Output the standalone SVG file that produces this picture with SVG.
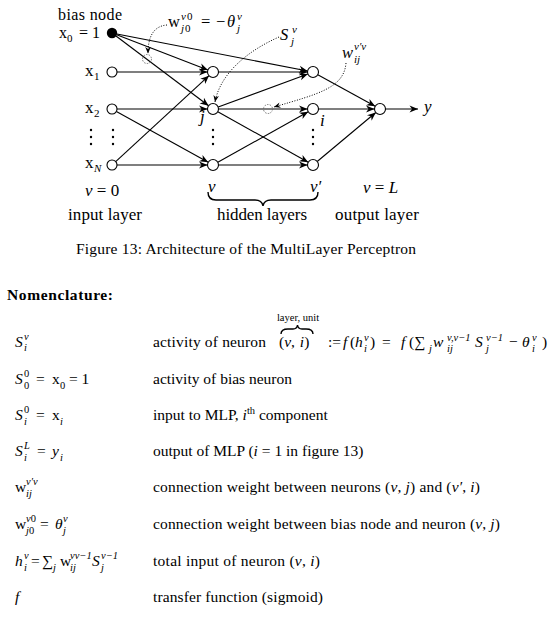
<svg xmlns="http://www.w3.org/2000/svg" width="552" height="619" viewBox="0 0 552 619">
<style>
text{font-family:"Liberation Serif","Times New Roman",serif;fill:#000}
.f{font-size:17px}
.fm{font-size:16.5px}
.t{font-size:15.5px}
.i{font-style:italic}
.s{font-size:11px}
.ss{font-size:10.5px}
.edge{stroke:#000;stroke-width:1.1;fill:none;marker-end:url(#ah)}
.dot{stroke:#000;stroke-width:1;fill:none;stroke-dasharray:1 1.6;marker-end:url(#ahs)}
.nd{fill:#fff;stroke:#000;stroke-width:1.1}
.dc{fill:none;stroke:#666;stroke-width:0.9;stroke-dasharray:1.5 1.3}
.br{fill:none;stroke:#000;stroke-width:1.4}
</style>
<defs>
<marker id="ah" markerUnits="userSpaceOnUse" markerWidth="12" markerHeight="10" viewBox="-9 -5 10 10" refX="0" refY="0" orient="auto">
<path d="M0,0 L-8.5,-3.6 L-6,0 L-8.5,3.6 z" fill="#000"/>
</marker>
<marker id="ahs" markerUnits="userSpaceOnUse" markerWidth="10" markerHeight="8" viewBox="-7 -4 8 8" refX="0" refY="0" orient="auto">
<path d="M0,0 L-6.5,-2.8 L-4.5,0 L-6.5,2.8 z" fill="#000"/>
</marker>
</defs>

<g id="connectors">
<line class="edge" x1="116.7" y1="34.8" x2="207.9" y2="70.0"/>
<line class="edge" x1="116" y1="36" x2="208.6" y2="105.7"/>
<line class="edge" x1="116.9" y1="34" x2="307.6" y2="71"/>
<line class="edge" x1="117" y1="72" x2="207.5" y2="72"/>
<line class="edge" x1="117" y1="109" x2="207.5" y2="109"/>
<line class="edge" x1="116.4" y1="111.4" x2="208.2" y2="162.3"/>
<line class="edge" x1="117" y1="165" x2="207.5" y2="165"/>
<line class="edge" x1="115.7" y1="161.6" x2="209" y2="75.7"/>
<line class="edge" x1="218.5" y1="72" x2="307.5" y2="72"/>
<line class="edge" x1="218.2" y1="107.1" x2="307.8" y2="73.9"/>
<line class="edge" x1="218.5" y1="109" x2="307.5" y2="109"/>
<line class="edge" x1="217.8" y1="111.7" x2="308.2" y2="162.3"/>
<line class="edge" x1="217.8" y1="162.3" x2="308.2" y2="111.7"/>
<line class="edge" x1="218.5" y1="165" x2="307.5" y2="165"/>
<line class="edge" x1="317.8" y1="74.7" x2="375.2" y2="106.3"/>
<line class="edge" x1="318.5" y1="109" x2="374.5" y2="109"/>
<line class="edge" x1="317.2" y1="161.5" x2="375.8" y2="112.5"/>
<line class="edge" x1="385.5" y1="109" x2="418" y2="109"/>
<path class="dot" d="M167,25 C154,26 148,36 148,53.5"/>
<path class="dot" d="M279,37 C245,52 220,75 215,102"/>
<path class="dot" d="M346,63 C344,88 318,94 274,107"/>
</g>

<g id="weight-marks">
<circle class="dc" cx="147" cy="59" r="4.5"/>
<circle class="dc" cx="268" cy="109" r="4.5"/>
</g>

<g id="bias"><circle cx="112" cy="33" r="5.2" fill="#000"/></g>
<g id="x1"><circle class="nd" cx="112" cy="72" r="5"/></g>
<g id="x2"><circle class="nd" cx="112" cy="109" r="5"/></g>
<g id="xN"><circle class="nd" cx="112" cy="165" r="5"/></g>
<g id="h1a"><circle class="nd" cx="213" cy="72" r="5.5"/></g>
<g id="h1b"><circle class="nd" cx="213" cy="109" r="5.5"/></g>
<g id="h1c"><circle class="nd" cx="213" cy="165" r="5.5"/></g>
<g id="h2a"><circle class="nd" cx="313" cy="72" r="5.5"/></g>
<g id="h2b"><circle class="nd" cx="313" cy="109" r="5.5"/></g>
<g id="h2c"><circle class="nd" cx="313" cy="165" r="5.5"/></g>
<g id="out"><circle class="nd" cx="380" cy="109" r="5.5"/></g>

<g id="vdots" fill="#000">
<circle cx="91" cy="130" r="1.2"/><circle cx="91" cy="137" r="1.2"/><circle cx="91" cy="144" r="1.2"/>
<circle cx="113" cy="130" r="1.2"/><circle cx="113" cy="137" r="1.2"/><circle cx="113" cy="144" r="1.2"/>
<circle cx="213" cy="130" r="1.2"/><circle cx="213" cy="137" r="1.2"/><circle cx="213" cy="144" r="1.2"/>
<circle cx="313" cy="130" r="1.2"/><circle cx="313" cy="137" r="1.2"/><circle cx="313" cy="144" r="1.2"/>
</g>

<g id="fig-labels">
<text x="58" y="20" font-size="16" textLength="64">bias node</text>
<text x="59" y="38" font-size="16">x</text><text class="s" x="67" y="42">0</text>
<text x="79" y="38" font-size="16">= 1</text>
<text class="f" x="85" y="76">x</text><text class="s" x="94" y="80">1</text>
<text class="f" x="85" y="113">x</text><text class="s" x="94" y="117">2</text>
<text class="f" x="85" y="168">x</text><text class="s i" x="94" y="172">N</text>

<text class="fm" x="168" y="27">w</text>
<text class="s i" x="181" y="20">v</text><text class="s" x="187" y="20">0</text>
<text class="s i" x="181" y="32">j</text><text class="s" x="185" y="32">0</text>
<text class="fm" x="201" y="27">=</text><text class="fm" x="216" y="27">−</text><text class="fm i" x="227" y="27">θ</text>
<text class="s i" x="237" y="20">v</text><text class="s i" x="237" y="32">j</text>

<text class="fm i" x="280" y="40">S</text>
<text class="s i" x="292" y="33">v</text><text class="s i" x="291" y="45">j</text>

<text class="fm i" x="342" y="58">w</text>
<text class="s i" x="354" y="50">v′v</text><text class="s i" x="354" y="63">ij</text>

<text class="f i" x="200" y="122">j</text>
<text class="f i" x="320" y="126">i</text>
<text class="f i" x="424" y="112">y</text>

<text class="f" x="85" y="196"><tspan class="i">v</tspan> = 0</text>
<text class="f i" x="208" y="192">v</text>
<text class="f i" x="310" y="192">v′</text>
<text class="f" x="363" y="193"><tspan class="i">v</tspan> = <tspan class="i">L</tspan></text>
<path class="br" d="M208,192 Q208,200 216,200 L255,200 Q262,200 263,206 Q264,200 271,200 L310,200 Q318,200 318,192"/>
<text class="f" x="68" y="220" textLength="74">input layer</text>
<text class="f" x="217" y="220" textLength="90">hidden layers</text>
<text class="f" x="335" y="220" textLength="84">output layer</text>
</g>

<text class="t" x="76" y="254" textLength="340">Figure 13: Architecture of the MultiLayer Perceptron</text>

<text class="t" x="7" y="300" font-weight="bold" textLength="106">Nomenclature:</text>

<g id="nomenclature">
<!-- row 1 -->
<text class="t i" x="15" y="347">S</text><text class="ss i" x="24" y="340">v</text><text class="ss i" x="24" y="351">i</text>
<text class="t" x="153" y="347" textLength="113">activity of neuron</text>
<text class="ss" x="298" y="321" text-anchor="middle">layer, unit</text>
<path class="br" d="M281,334 Q281,329 288,329 L293,329 Q297,329 297.5,325 Q298,329 302,329 L306,329 Q313,329 313,334" stroke-width="1.2"/>
<text class="t" x="279" y="347">(<tspan class="i">v</tspan>, <tspan class="i" dx="1">i</tspan>)</text>
<text class="t" x="328" y="347">:=</text>
<text class="t i" x="343" y="347">f</text><text class="t" x="350" y="347">(</text>
<text class="t i" x="355" y="347">h</text><text class="ss i" x="364" y="341">v</text><text class="ss i" x="364" y="352">i</text>
<text class="t" x="370" y="347">)</text>
<text class="t" x="382" y="347">=</text>
<text class="t i" x="401" y="347">f</text><text class="t" x="409" y="347">(∑</text>
<text class="ss i" x="429" y="352">j</text>
<text class="t i" x="433" y="347">w</text><text class="ss i" x="447" y="341">v,v−1</text><text class="ss i" x="447" y="352">ij</text>
<text class="t i" x="475" y="347">S</text><text class="ss i" x="486" y="341">v−1</text><text class="ss i" x="486" y="352">j</text>
<text class="t" x="509" y="347">−</text>
<text class="t i" x="522" y="347">θ</text><text class="ss i" x="532" y="341">v</text><text class="ss i" x="532" y="352">i</text>
<text class="t" x="542" y="347">)</text>

<!-- row 2 -->
<text class="t i" x="15" y="384">S</text><text class="ss" x="24" y="377">0</text><text class="ss" x="24" y="389">0</text>
<text class="t" x="36" y="384">=</text><text class="t" x="52" y="384">x</text><text class="ss" x="60" y="389">0</text>
<text class="t" x="69" y="384">= 1</text>
<text class="t" x="153" y="384">activity of bias neuron</text>

<!-- row 3 -->
<text class="t i" x="15" y="420">S</text><text class="ss" x="24" y="413">0</text><text class="ss i" x="24" y="425">i</text>
<text class="t" x="36" y="420">=</text><text class="t" x="52" y="420">x</text><text class="ss i" x="60" y="425">i</text>
<text class="t" x="153" y="420">input to MLP, <tspan class="i">i</tspan><tspan class="ss" dy="-6">th</tspan><tspan dy="6"> component</tspan></text>

<!-- row 4 -->
<text class="t i" x="15" y="456">S</text><text class="ss i" x="24" y="449">L</text><text class="ss i" x="24" y="461">i</text>
<text class="t" x="37" y="456">=</text><text class="t i" x="52" y="456">y</text><text class="ss i" x="60" y="461">i</text>
<text class="t" x="153" y="456">output of MLP (<tspan class="i">i</tspan> = 1 in figure 13)</text>

<!-- row 5 -->
<text class="t" x="15" y="492">w</text><text class="ss i" x="26" y="485">v′v</text><text class="ss i" x="26" y="497">ij</text>
<text class="t" x="153" y="492" textLength="327">connection weight between neurons (<tspan class="i">v</tspan>, <tspan class="i">j</tspan>) and (<tspan class="i">v′</tspan>, <tspan class="i">i</tspan>)</text>

<!-- row 6 -->
<text class="t" x="15" y="529">w</text><text class="ss" x="26" y="522"><tspan class="i">v</tspan>0</text><text class="ss" x="26" y="534"><tspan class="i">j</tspan>0</text>
<text class="t" x="40" y="529">=</text><text class="t i" x="55" y="529">θ</text><text class="ss i" x="63" y="522">v</text><text class="ss i" x="63" y="534">j</text>
<text class="t" x="153" y="529" textLength="347">connection weight between bias node and neuron (<tspan class="i">v</tspan>, <tspan class="i">j</tspan>)</text>

<!-- row 7 -->
<text class="t i" x="15" y="566">h</text><text class="ss i" x="24" y="559">v</text><text class="ss i" x="24" y="571">i</text>
<text class="t" x="31" y="566">=</text><text class="t" x="42" y="566">∑</text><text class="ss i" x="53" y="571">j</text>
<text class="t" x="60" y="566">w</text><text class="ss i" x="70" y="559">vv−1</text><text class="ss i" x="70" y="571">ij</text>
<text class="t i" x="92" y="566">S</text><text class="ss i" x="101" y="559">v−1</text><text class="ss i" x="101" y="571">j</text>
<text class="t" x="153" y="566" textLength="167">total input of neuron (<tspan class="i">v</tspan>, <tspan class="i">i</tspan>)</text>

<!-- row 8 -->
<text class="t i" x="15" y="602">f</text>
<text class="t" x="153" y="602" textLength="170">transfer function (sigmoid)</text>
</g>
</svg>
